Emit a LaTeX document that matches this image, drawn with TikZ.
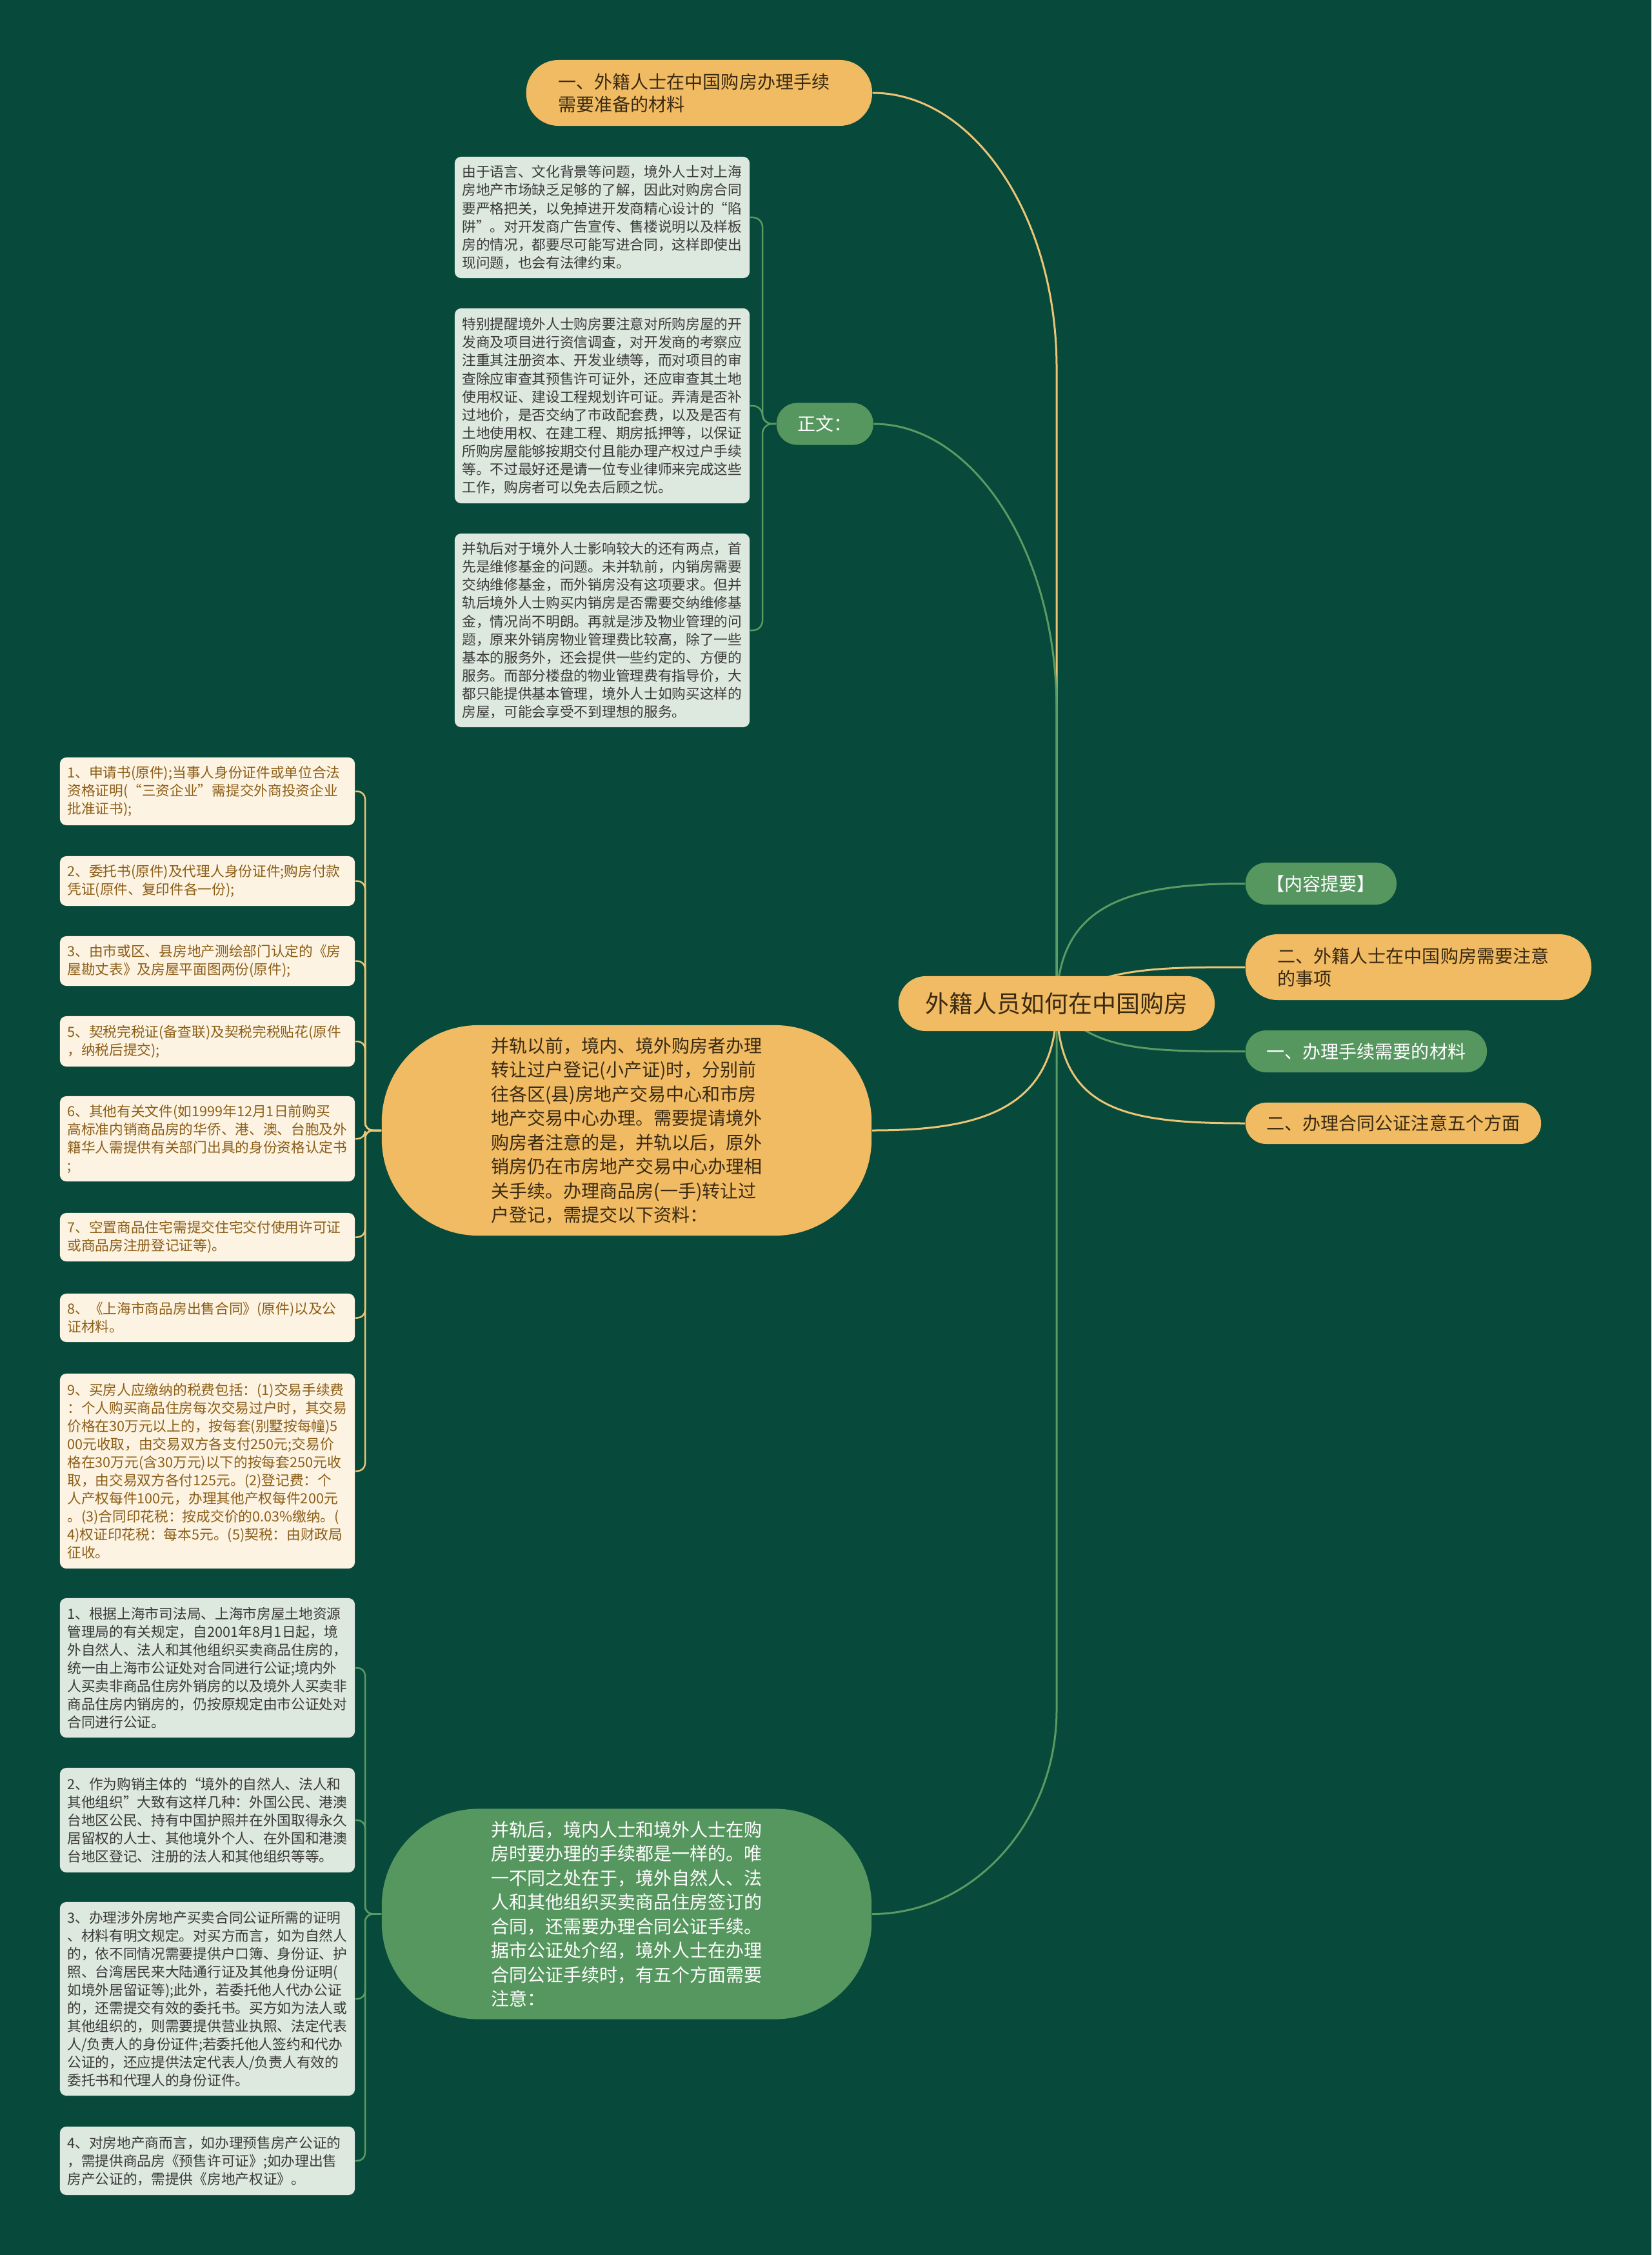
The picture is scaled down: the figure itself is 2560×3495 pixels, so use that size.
\documentclass[tikz,border=0pt]{standalone}
\usepackage{fontspec}
\setmainfont{Noto Sans CJK SC}
\usepackage{tikz}
\pgfdeclarelayer{bg}
\pgfdeclarelayer{edges}
\pgfsetlayers{bg,edges,main}
\definecolor{bgcol}{HTML}{07493A}
\definecolor{orangefill}{HTML}{F0BB62}
\definecolor{greenfill}{HTML}{56965F}
\definecolor{palebox}{HTML}{DDE8DF}
\definecolor{creambox}{HTML}{FDF3E2}
\definecolor{browntext}{HTML}{8C5E17}
\definecolor{darktext}{HTML}{3A2A12}
\definecolor{greytext}{HTML}{3A3A3A}
\definecolor{goldline}{HTML}{ECC576}
\definecolor{greenline}{HTML}{5A9A63}
\tikzset{
  rootv/.style={fill=orangefill,text=darktext,rounded corners=4.2mm,minimum height=8.5mm,inner xsep=4.2mm,font=\fontsize{10.5pt}{12pt}\selectfont},
  orangepill/.style={fill=orangefill,text=darktext,rounded corners=5mm,minimum height=10.2mm,inner xsep=5mm,text width=4.36cm,align=left,font=\fontsize{7.97pt}{9.96pt}\selectfont},
  orangetag/.style={fill=orangefill,text=darktext,rounded corners=3.2mm,minimum height=6.4mm,inner xsep=3.3mm,font=\fontsize{7.97pt}{9.96pt}\selectfont},
  greentag/.style={fill=greenfill,text=white,rounded corners=3.2mm,minimum height=6.5mm,inner xsep=3.3mm,font=\fontsize{7.97pt}{9.96pt}\selectfont},
  bigv/.style={rounded corners=1.5cm,minimum width=7.59cm,minimum height=3.26cm,text width=4.2cm,align=left,font=\fontsize{7.97pt}{10.67pt}\selectfont},
  leafv/.style={rounded corners=1mm,text width=4.34cm,inner xsep=1.15mm,align=left,font=\fontsize{6.17pt}{7.97pt}\selectfont},
  cream/.style={leafv,fill=creambox,text=browntext},
  pale/.style={leafv,fill=palebox,text=greytext},
  goldedge/.style={draw=goldline,line width=0.3mm},
  greenedge/.style={draw=greenline,line width=0.3mm},
  goldthin/.style={draw=goldline,line width=0.25mm,rounded corners=1.2mm},
  greenthin/.style={draw=greenline,line width=0.25mm,rounded corners=1.2mm},
}
\begin{document}
\begin{tikzpicture}[x=0.01cm,y=-0.01cm]
  \useasboundingbox (0,0) rectangle (2560,3495);
  \begin{pgfonlayer}{bg}
    \fill[bgcol] (0,0) rectangle (2560,3495);
  \end{pgfonlayer}
  \node[rootv] (root) at (1638,1555.5) {外籍人员如何在中国购房};
  \node[orangepill,anchor=west] (t1) at (815,144) {一、外籍人士在中国购房办理手续\\需要准备的材料};
  \node[greentag,anchor=west] (zw) at (1203,657) {正文：};
  \node[pale,minimum height=1.88cm] (pA) at (933.5,337) {由于语言、文化背景等问题，境外人士对上海\\房地产市场缺乏足够的了解，因此对购房合同\\要严格把关，以免掉进开发商精心设计的“陷\\阱”。对开发商广告宣传、售楼说明以及样板\\房的情况，都要尽可能写进合同，这样即使出\\现问题，也会有法律约束。};
  \node[pale,minimum height=3.02cm] (pB) at (933.5,629) {特别提醒境外人士购房要注意对所购房屋的开\\发商及项目进行资信调查，对开发商的考察应\\注重其注册资本、开发业绩等，而对项目的审\\查除应审查其预售许可证外，还应审查其土地\\使用权证、建设工程规划许可证。弄清是否补\\过地价，是否交纳了市政配套费，以及是否有\\土地使用权、在建工程、期房抵押等，以保证\\所购房屋能够按期交付且能办理产权过户手续\\等。不过最好还是请一位专业律师来完成这些\\工作，购房者可以免去后顾之忧。};
  \node[pale,minimum height=3.0cm] (pC) at (933.5,977) {并轨后对于境外人士影响较大的还有两点，首\\先是维修基金的问题。未并轨前，内销房需要\\交纳维修基金，而外销房没有这项要求。但并\\轨后境外人士购买内销房是否需要交纳维修基\\金，情况尚不明朗。再就是涉及物业管理的问\\题，原来外销房物业管理费比较高，除了一些\\基本的服务外，还会提供一些约定的、方便的\\服务。而部分楼盘的物业管理费有指导价，大\\都只能提供基本管理，境外人士如购买这样的\\房屋，可能会享受不到理想的服务。};
  \node[greentag,anchor=west,minimum width=2.3cm] (r1) at (1930,1369.5) {【内容提要】};
  \node[orangepill,anchor=west] (r2) at (1930,1499) {二、外籍人士在中国购房需要注意\\的事项};
  \node[greentag,anchor=west] (r3) at (1930,1629.5) {一、办理手续需要的材料};
  \node[orangetag,anchor=west] (r4) at (1930,1741) {二、办理合同公证注意五个方面};
  \node[bigv,fill=orangefill,text=darktext] (qian) at (971.5,1752) {并轨以前，境内、境外购房者办理\\转让过户登记(小产证)时，分别前\\往各区(县)房地产交易中心和市房\\地产交易中心办理。需要提请境外\\购房者注意的是，并轨以后，原外\\销房仍在市房地产交易中心办理相\\关手续。办理商品房(一手)转让过\\户登记，需提交以下资料：};
  \node[bigv,fill=greenfill,text=white] (hou) at (971.5,2966.5) {并轨后，境内人士和境外人士在购\\房时要办理的手续都是一样的。唯\\一不同之处在于，境外自然人、法\\人和其他组织买卖商品住房签订的\\合同，还需要办理合同公证手续。\\据市公证处介绍，境外人士在办理\\合同公证手续时，有五个方面需要\\注意：};
  \node[cream,minimum height=1.05cm] (m1) at (321.5,1226.5) {1、申请书(原件);当事人身份证件或单位合法\\资格证明(“三资企业”需提交外商投资企业\\批准证书);};
  \node[cream,minimum height=0.77cm] (m2) at (321.5,1365.5) {2、委托书(原件)及代理人身份证件;购房付款\\凭证(原件、复印件各一份);};
  \node[cream,minimum height=0.77cm] (m3) at (321.5,1489.5) {3、由市或区、县房地产测绘部门认定的《房\\屋勘丈表》及房屋平面图两份(原件);};
  \node[cream,minimum height=0.78cm] (m5) at (321.5,1614) {5、契税完税证(备查联)及契税完税贴花(原件\\，纳税后提交);};
  \node[cream,minimum height=1.32cm] (m6) at (321.5,1765) {6、其他有关文件(如1999年12月1日前购买\\高标准内销商品房的华侨、港、澳、台胞及外\\籍华人需提供有关部门出具的身份资格认定书\\;};
  \node[cream,minimum height=0.75cm] (m7) at (321.5,1917.5) {7、空置商品住宅需提交住宅交付使用许可证\\或商品房注册登记证等)。};
  \node[cream,minimum height=0.75cm] (m8) at (321.5,2042.5) {8、《上海市商品房出售合同》(原件)以及公\\证材料。};
  \node[cream,minimum height=3.02cm] (m9) at (321.5,2280) {9、买房人应缴纳的税费包括：(1)交易手续费\\：个人购买商品住房每次交易过户时，其交易\\价格在30万元以上的，按每套(别墅按每幢)5\\00元收取，由交易双方各支付250元;交易价\\格在30万元(含30万元)以下的按每套250元收\\取，由交易双方各付125元。(2)登记费：个\\人产权每件100元，办理其他产权每件200元\\。(3)合同印花税：按成交价的0.03\%缴纳。(\\4)权证印花税：每本5元。(5)契税：由财政局\\征收。};
  \node[pale,minimum height=2.16cm] (g1) at (321.5,2585) {1、根据上海市司法局、上海市房屋土地资源\\管理局的有关规定，自2001年8月1日起，境\\外自然人、法人和其他组织买卖商品住房的，\\统一由上海市公证处对合同进行公证;境内外\\人买卖非商品住房外销房的以及境外人买卖非\\商品住房内销房的，仍按原规定由市公证处对\\合同进行公证。};
  \node[pale,minimum height=1.62cm] (g2) at (321.5,2821) {2、作为购销主体的“境外的自然人、法人和\\其他组织”大致有这样几种：外国公民、港澳\\台地区公民、持有中国护照并在外国取得永久\\居留权的人士、其他境外个人、在外国和港澳\\台地区登记、注册的法人和其他组织等等。};
  \node[pale,minimum height=3.0cm] (g3) at (321.5,3098) {3、办理涉外房地产买卖合同公证所需的证明\\、材料有明文规定。对买方而言，如为自然人\\的，依不同情况需要提供户口簿、身份证、护\\照、台湾居民来大陆通行证及其他身份证明(\\如境外居留证等);此外，若委托他人代办公证\\的，还需提交有效的委托书。买方如为法人或\\其他组织的，则需要提供营业执照、法定代表\\人/负责人的身份证件;若委托他人签约和代办\\公证的，还应提供法定代表人/负责人有效的\\委托书和代理人的身份证件。};
  \node[pale,minimum height=1.06cm] (g4) at (321.5,3349) {4、对房地产商而言，如办理预售房产公证的\\，需提供商品房《预售许可证》;如办理出售\\房产公证的，需提供《房地产权证》。};
  \begin{pgfonlayer}{edges}
    \draw[goldedge] (root.center) -- (1638,570) .. controls (1638,335) and (1509,144) .. (t1.east);
    \draw[greenedge] (root.center) -- (1638,1100) .. controls (1638,855) and (1509,657) .. (zw.east);
    \draw[greenedge] (root.center) .. controls (1640,1400) and (1750,1369.5) .. (r1.west);
    \draw[goldedge] (root.center) .. controls (1700,1499) and (1800,1499) .. (r2.west);
    \draw[greenedge] (root.center) .. controls (1690,1629.5) and (1780,1629.5) .. (r3.west);
    \draw[goldedge] (root.center) .. controls (1640,1720) and (1740,1741) .. (r4.west);
    \draw[goldedge] (root.center) .. controls (1638,1720) and (1520,1752) .. (qian.east);
    \draw[greenedge] (root.center) -- (1638,2650) .. controls (1638,2824) and (1509,2966.5) .. (hou.east);
    \foreach \p in {pA,pB,pC}
      \draw[greenthin,rounded corners=1.5mm] (zw.west) -- (1182,657) |- (\p.east);
    \foreach \m in {m1,m2,m3,m5,m6,m7,m8,m9}
      \draw[goldthin] (qian.west) -- (566,1752) |- (\m.east);
    \foreach \g in {g1,g2,g3,g4}
      \draw[greenthin] (hou.west) -- (566,2966.5) |- (\g.east);
  \end{pgfonlayer}
\end{tikzpicture}
\end{document}
